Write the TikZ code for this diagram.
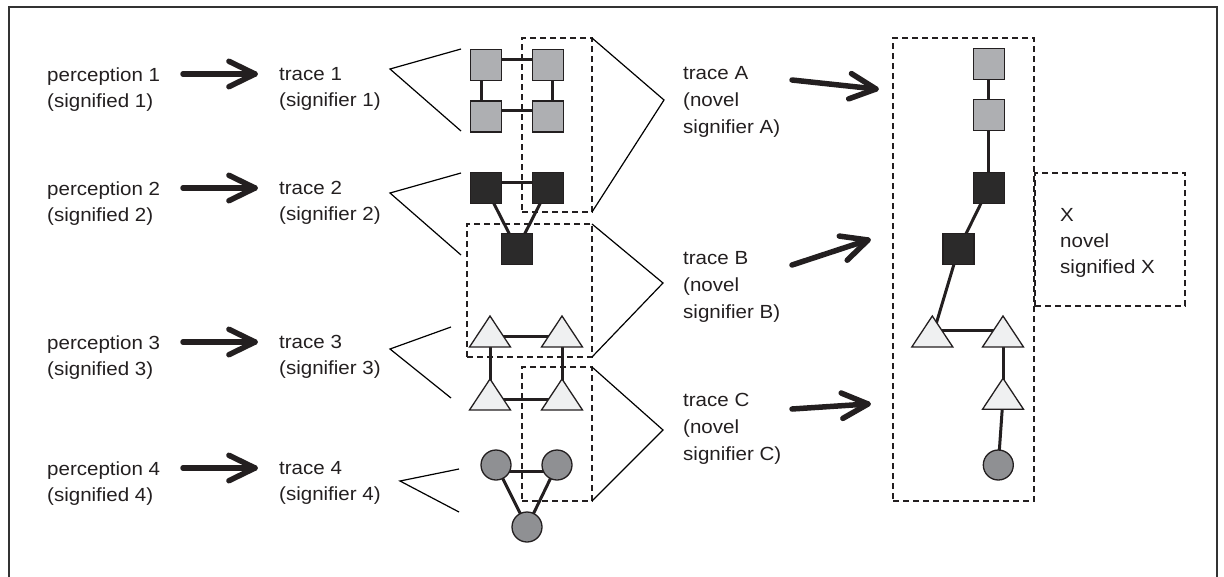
\documentclass[tikz,border=0pt]{standalone}
\usepackage{fontspec}
\setmainfont{Liberation Sans}[FakeStretch=1.08]
\usetikzlibrary{calc,shapes.geometric,backgrounds}
\definecolor{ink}{HTML}{231F20}
\definecolor{sqgray}{HTML}{AEAFB2}
\definecolor{sqblack}{HTML}{2B2A2A}
\definecolor{trifill}{HTML}{EFF0F1}
\definecolor{circfill}{HTML}{8F9093}
\newcommand{\chevarrow}[2]{%
  \draw[bigarrow] (#1) -- (#2);
  \draw[bigarrow] ($(#2)!29pt!26:(#1)$) -- (#2) -- ($(#2)!29pt!-26:(#1)$);}
\begin{document}
\begin{tikzpicture}[x=1pt,y=-1pt,
  txt/.style={anchor=west, align=left, inner sep=0pt, text=ink, font=\fontsize{19}{26}\selectfont},
  txtr/.style={anchor=west, align=left, inner sep=0pt, text=ink, font=\fontsize{19}{27}\selectfont},
  sqg/.style={rectangle, draw=ink, line width=1.3pt, fill=sqgray, minimum size=31pt, inner sep=0pt, outer sep=0pt},
  sqk/.style={sqg, fill=sqblack},
  tri/.style={isosceles triangle, isosceles triangle stretches, shape border rotate=90, draw=ink, line width=1.3pt, fill=trifill, minimum width=41pt, minimum height=31pt, inner sep=0pt, outer sep=0pt, anchor=apex},
  circ/.style={circle, draw=ink, line width=1.3pt, fill=circfill, minimum size=30pt, inner sep=0pt, outer sep=0pt},
  link/.style={draw=ink, line width=3pt},
  brk/.style={draw=black, line width=1.2pt, line join=miter},
  dbox/.style={rectangle, draw=ink, dash pattern=on 6pt off 4pt, line width=1.3pt, inner sep=0pt, outer sep=0pt},
  bigarrow/.style={draw=ink, line width=5.5pt, line cap=round, line join=round},
  frame/.style={draw=black!80, line width=1.5pt}
]
\useasboundingbox (0,0) rectangle (1224,576);
\draw[frame] (9,577) -- (9,7) -- (1217,7) -- (1217,577);

% ---- left texts
\node[txt] (p1) at (47,89.2) {perception 1\\(signified 1)};
\node[txt] (p2) at (47,203.2) {perception 2\\(signified 2)};
\node[txt] (p3) at (47,357.2) {perception 3\\(signified 3)};
\node[txt] (p4) at (47,483.2) {perception 4\\(signified 4)};
\node[txt] (s1) at (279,89.2) {trace 1\\(signifier 1)};
\node[txt] (s2) at (279,203.2) {trace 2\\(signifier 2)};
\node[txt] (s3) at (279,357.2) {trace 3\\(signifier 3)};
\node[txt] (s4) at (279,483.2) {trace 4\\(signifier 4)};

% ---- middle texts
\node[txtr] (ta) at (683,102.2) {trace A\\(novel\\signifier A)};
\node[txtr] (tb) at (683,287.2) {trace B\\(novel\\signifier B)};
\node[txtr] (tc) at (683,429.2) {trace C\\(novel\\signifier C)};

% ---- left arrows
\coordinate (a1s) at (183,74);  \coordinate (a1e) at (255,74);
\coordinate (a2s) at (183,188); \coordinate (a2e) at (255,188);
\coordinate (a3s) at (183,342); \coordinate (a3e) at (255,342);
\coordinate (a4s) at (183,468); \coordinate (a4e) at (255,468);
\chevarrow{a1s}{a1e}
\chevarrow{a2s}{a2e}
\chevarrow{a3s}{a3e}
\chevarrow{a4s}{a4e}

% ---- right arrows
\coordinate (aAs) at (792,80);  \coordinate (aAe) at (876,89);
\coordinate (aBs) at (792,265); \coordinate (aBe) at (868,240);
\coordinate (aCs) at (792,409); \coordinate (aCe) at (868,404);
\chevarrow{aAs}{aAe}
\chevarrow{aBs}{aBe}
\chevarrow{aCs}{aCe}

% ---- left shapes
\node[sqg] (g1) at (486,65) {};
\node[sqg] (g2) at (548,65) {};
\node[sqg] (g3) at (486,116.5) {};
\node[sqg] (g4) at (548,116.5) {};
\node[sqk] (k1) at (486,188) {};
\node[sqk] (k2) at (548,188) {};
\node[sqk] (k3) at (517,249) {};
\node[tri] (t1) at (490,316) {};
\node[tri] (t2) at (562,316) {};
\node[tri] (t3) at (490,379) {};
\node[tri] (t4) at (562,379) {};
\node[circ] (c1) at (496,465) {};
\node[circ] (c2) at (557,465) {};
\node[circ] (c3) at (527,527) {};

% ---- right chain
\node[sqg] (r1) at (988.7,64.3) {};
\node[sqg] (r2) at (988.7,115) {};
\node[sqk] (r3) at (988.7,187.7) {};
\node[sqk] (r4) at (958.5,249) {};
\node[tri] (rt1) at (932.3,316) {};
\node[tri] (rt2) at (1003,316) {};
\node[tri] (rt3) at (1003,378.3) {};
\node[circ] (rc) at (998.3,465) {};

% ---- connectors (behind shapes)
\begin{scope}[on background layer]
  \draw[link] ([yshift=6pt]g1.center) -- ([yshift=6pt]g2.center);
  \draw[link] ([yshift=6pt]g3.center) -- ([yshift=6pt]g4.center);
  \draw[link] ([xshift=-5pt]g1.center) -- ([xshift=-5pt]g3.center);
  \draw[link] ([xshift=4pt]g2.center) -- ([xshift=4pt]g4.center);
  \draw[link] ([yshift=6pt]k1.center) -- ([yshift=6pt]k2.center);
  \draw[link] (k1.center) -- (k3.center);
  \draw[link] (k2.center) -- (k3.center);
  \draw[link] ([yshift=-20.7pt]t1.apex) -- ([yshift=-20.7pt]t2.apex);
  \draw[link] ([yshift=-20.7pt]t3.apex) -- ([yshift=-20.7pt]t4.apex);
  \draw[link] ([yshift=-20.7pt]t1.apex) -- ([yshift=-20.7pt]t3.apex);
  \draw[link] ([yshift=-20.7pt]t2.apex) -- ([yshift=-20.7pt]t4.apex);
  \draw[link] ([yshift=-6pt]c1.center) -- ([yshift=-6pt]c2.center);
  \draw[link] (c1.center) -- (c3.center);
  \draw[link] (c2.center) -- (c3.center);
  \draw[link] (r1.center) -- (r2.center);
  \draw[link] (r2.center) -- (r3.center);
  \draw[link] (r3.center) -- (r4.center);
  \draw[link] (r4.center) -- ([yshift=-20.7pt]rt1.apex);
  \draw[link] ([yshift=-14pt]rt1.apex) -- ([yshift=-14pt]rt2.apex);
  \draw[link] ([yshift=-20pt]rt2.apex) -- ([yshift=-20pt]rt3.apex);
  \draw[link] ([yshift=-20pt]rt3.apex) -- (rc.center);
\end{scope}

% ---- dashed boxes
\node[dbox, minimum width=70pt, minimum height=174pt] (bA) at (557,125) {};
\node[dbox, minimum width=125pt, minimum height=133pt] (bB) at (529.5,290.5) {};
\node[dbox, minimum width=70pt, minimum height=134pt] (bC) at (557,434) {};
\node[dbox, minimum width=141pt, minimum height=463pt] (bBig) at (963.5,269.5) {};
\node[dbox, minimum width=150pt, minimum height=133pt] (bX) at (1110,239.5) {};
\node[txt] (xt) at (1060,243.2) {X\\novel\\signified X};

% ---- right brackets
\coordinate (vA) at (664,100);
\coordinate (vB) at (663,283);
\coordinate (vC) at (663,430);
\draw[brk] (bA.north east) -- (vA) -- (bA.south east);
\draw[brk] (bB.north east) -- (vB) -- (bB.south east);
\draw[brk] (bC.north east) -- (vC) -- (bC.south east);

% ---- left brackets
\coordinate (l1v) at (390,69);  \coordinate (l1u) at (461,49);  \coordinate (l1d) at (461,131);
\coordinate (l2v) at (390,193); \coordinate (l2u) at (461,173); \coordinate (l2d) at (461,255);
\coordinate (l3v) at (390,349); \coordinate (l3u) at (451,327); \coordinate (l3d) at (451,398);
\coordinate (l4v) at (400,481); \coordinate (l4u) at (459,469); \coordinate (l4d) at (459,512);
\draw[brk] (l1u) -- (l1v) -- (l1d);
\draw[brk] (l2u) -- (l2v) -- (l2d);
\draw[brk] (l3u) -- (l3v) -- (l3d);
\draw[brk] (l4u) -- (l4v) -- (l4d);
\end{tikzpicture}
\end{document}
